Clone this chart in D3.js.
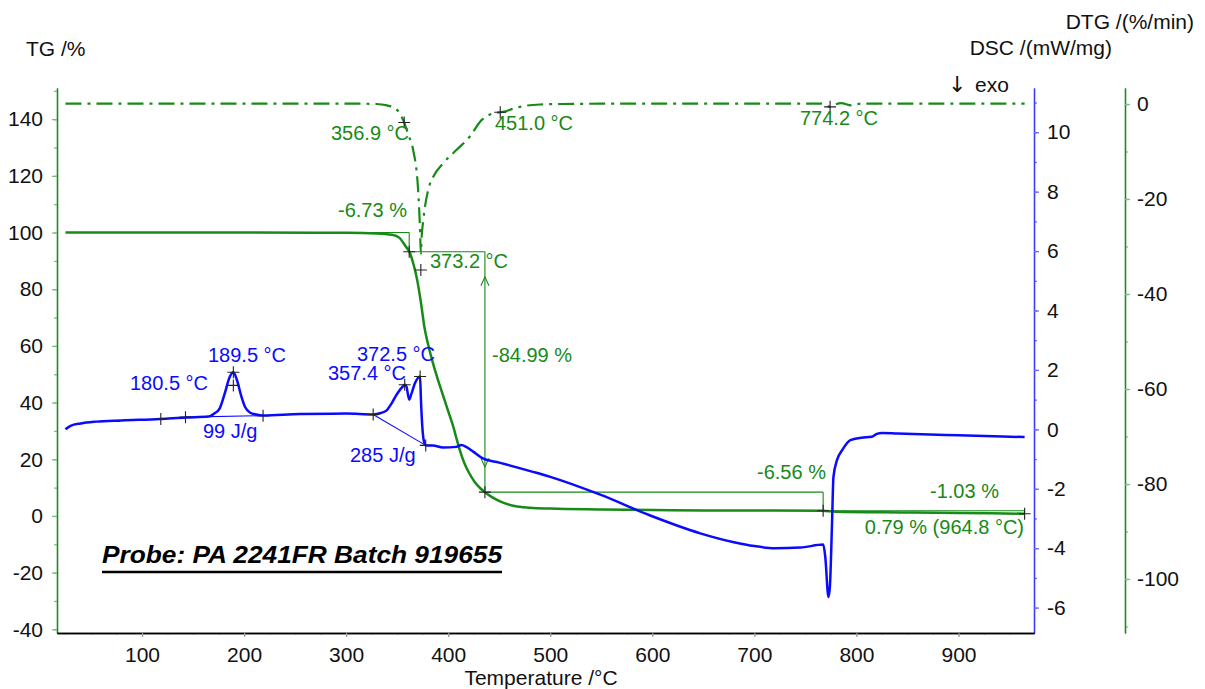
<!DOCTYPE html>
<html>
<head>
<meta charset="utf-8">
<script src="https://cdn.jsdelivr.net/npm/d3@7"></script>
<style>
	body { margin: 0; background: #fff; }
	text { font-family: "Liberation Sans", Arial, sans-serif; }
</style>
</head>
<body>
<div id="chart"></div>
<script>
// values (temperature in °C)
const tgTemp = [25, 100, 200, 300, 330, 345, 352, 356, 359, 362, 366.6, 369.6, 373, 377, 380, 385, 390, 395, 400, 405, 408, 412, 416, 420, 426, 432, 436, 445, 455, 465, 480, 500, 550, 600, 650, 700, 766, 780, 850, 900, 964.8];
const tgVal = [100, 100, 100, 99.9, 99.7, 99.2, 98.2, 96.4, 94.8, 93.2, 88, 83.3, 76, 66, 61, 54, 48, 42.5, 37, 31.5, 27.5, 22.5, 18.5, 15.5, 12, 9.6, 8.4, 6.2, 4.5, 3.5, 2.9, 2.6, 2.3, 2.1, 1.95, 1.9, 1.8, 1.5, 1.25, 1.05, 0.79];

const dscTemp = [25, 30, 40, 55, 80, 118, 143, 165, 171, 176, 181, 186, 189.5, 193, 197.4, 201, 206, 212, 219, 255, 300, 326.5, 334, 340, 345, 350, 356, 357.4, 359, 361.8, 364, 367.4, 371.6, 372.5, 373.2, 376, 378, 385, 395, 408, 413, 418, 424.5, 434, 450, 483, 500, 549, 598, 647, 680, 700, 720, 745, 767.5, 769.5, 772.6, 774, 776, 777.5, 781, 786, 794, 805, 815, 820, 825, 840, 900, 964.8];
const dscVal = [0.0, 0.12, 0.2, 0.26, 0.3, 0.35, 0.4, 0.43, 0.54, 0.7, 1.2, 1.77, 1.92, 1.66, 1.1, 0.75, 0.56, 0.5, 0.47, 0.52, 0.53, 0.5, 0.55, 0.65, 0.9, 1.2, 1.46, 1.5, 1.45, 1.0, 1.2, 1.55, 1.77, 1.78, 1.1, -0.37, -0.54, -0.54, -0.61, -0.59, -0.53, -0.6, -0.75, -0.98, -1.12, -1.43, -1.6, -2.2, -2.9, -3.5, -3.8, -3.93, -4.0, -3.98, -3.88, -4.3, -5.64, -5.3, -3.28, -1.6, -1.03, -0.7, -0.36, -0.28, -0.25, -0.15, -0.12, -0.14, -0.2, -0.26];

const dtgTemp = [25, 100, 200, 300, 330, 340, 347, 352, 356.9, 361, 365.7, 370.5, 372.5, 373.2, 374, 375.6, 380.5, 385.4, 395, 408, 421, 432.7, 441, 448, 455, 465, 475, 490, 510, 600, 700, 765, 770, 774.2, 778, 785, 795, 805, 900, 964.8];
const dtgVal = [0.1, 0.1, 0.1, 0.1, 0, -0.3, -0.8, -1.8, -3.9, -6.5, -9.7, -18, -27, -31.5, -28, -24.4, -18, -15.3, -12.5, -9.7, -6.9, -3.4, -2.2, -1.8, -1.6, -0.9, -0.4, -0.1, 0, 0.1, 0.1, 0.1, -0.2, -0.6, -0.2, 0.2, -0.3, 0.1, 0.1, 0.1];

// evaluated points marked with a cross: [temperature, value]
const tgMarks = [[361.8, 93.2], [373.2, 86.8], [436, 8.4], [767.4, 1.84], [964.8, 0.79]];
const dscMarks = [[118.4, 0.35], [142.6, 0.41], [189.5, 1.92], [189.5, 1.48], [218.6, 0.46], [326.5, 0.5], [357.4, 1.5], [372.5, 1.78], [378, -0.54]];
const dtgMarks = [[356.9, -3.9], [451, -1.75], [774.2, -0.6]];

// mass steps: [start temperature, end temperature, level]
const tgSteps = [[300, 361.8, 100], [361.8, 436, 93.2], [436, 767.4, 8.4], [767.4, 964.8, 1.84]];

const xTicks = [100, 200, 300, 400, 500, 600, 700, 800, 900];
const tgTicks = [-40, -20, 0, 20, 40, 60, 80, 100, 120, 140];
const dscTicks = [-6, -4, -2, 0, 2, 4, 6, 8, 10];
const dtgTicks = [0, -20, -40, -60, -80, -100];

const GREEN = "#178a17";
const BLUE = "#0a0aff";

const width = 1205, height = 689;
const svg = d3.select("#chart").append("svg")
	.attr("width", width).attr("height", height);

const x = d3.scaleLinear().domain([16.7, 974]).range([57, 1034]);
const yTG = d3.scaleLinear().domain([-41.3, 151]).range([633, 88]);
const yDSC = d3.scaleLinear().domain([-6.855, 11.49]).range([633, 88]);
const yDTG = d3.scaleLinear().domain([-111.37, 3.37]).range([633, 88]);

function addAxis(axis, tx, ty, domainColor, tickColor){
	const g = svg.append("g").attr("transform", "translate(" + tx + "," + ty + ")").call(axis);
	g.select(".domain").attr("stroke", domainColor).attr("stroke-width", 1.3);
	g.selectAll(".tick line").attr("stroke", tickColor).attr("stroke-width", 1.3);
	g.selectAll(".tick text").attr("fill", "#111").style("font-size", "21px")
		.style("font-family", "'Liberation Sans', Arial, sans-serif");
	return g;
}

// minor ticks first, then major ticks with labels
addAxis(d3.axisLeft(yTG).tickValues(d3.range(-40, 151, 10)).tickSize(3).tickSizeOuter(0).tickFormat(""), 57, 0, GREEN, "#7cc07c");
addAxis(d3.axisLeft(yTG).tickValues(tgTicks).tickSize(5).tickSizeOuter(0).tickPadding(9).tickFormat(d => String(d)), 57, 0, GREEN, "#7cc07c");

addAxis(d3.axisRight(yDSC).tickValues(d3.range(-6, 12, 1)).tickSize(3).tickSizeOuter(0).tickFormat(""), 1034, 0, "#3a3aff", "#6a6aff");
addAxis(d3.axisRight(yDSC).tickValues(dscTicks).tickSize(5).tickSizeOuter(0).tickPadding(8).tickFormat(d => String(d)), 1034, 0, "#3a3aff", "#6a6aff");

addAxis(d3.axisRight(yDTG).tickValues(d3.range(-110, 1, 10)).tickSize(3).tickSizeOuter(0).tickFormat(""), 1125, 0, GREEN, "#7cc07c");
addAxis(d3.axisRight(yDTG).tickValues(dtgTicks).tickSize(5).tickSizeOuter(0).tickPadding(7).tickFormat(d => String(d)), 1125, 0, GREEN, "#7cc07c");

addAxis(d3.axisBottom(x).tickValues(d3.range(25, 951, 25)).tickSize(2).tickSizeOuter(0).tickFormat(""), 0, 633, "#000", "#999");
addAxis(d3.axisBottom(x).tickValues(xTicks).tickSize(4).tickSizeOuter(0).tickPadding(10).tickFormat(d => String(d)), 0, 633, "#000", "#999");

function label(str, px, py, color, anchor, size){
	return svg.append("text").attr("x", px).attr("y", py)
		.attr("fill", color).attr("text-anchor", anchor || "start")
		.style("font-size", (size || 20) + "px").text(str);
}

function cross(px, py){
	svg.append("path")
		.attr("d", "M" + (px-6) + "," + py + "H" + (px+6) + "M" + px + "," + (py-6) + "V" + (py+6))
		.attr("stroke", "#222").attr("stroke-width", 1.1).attr("fill", "none");
}

// axis titles
label("TG /%", 26, 56, "#111", "start", 21);
label("DTG /(%/min)", 1194, 29, "#111", "end", 21);
label("DSC /(mW/mg)", 1112, 55, "#111", "end", 21);
label("exo", 975, 92, "#111", "start", 21);
label("\u2193", 948, 92, "#111", "start", 22).style("font-family", "'DejaVu Sans', sans-serif");
label("Temperature /°C", 541, 685, "#111", "middle", 21);

// evaluation helper lines
const stepLine = svg.append("g").attr("stroke", GREEN).attr("stroke-width", 1.1).attr("fill", "none");
tgSteps.forEach((s, i) => {
	stepLine.append("line").attr("x1", x(s[0])).attr("x2", x(s[1])).attr("y1", yTG(s[2])).attr("y2", yTG(s[2]));
	const next = i < tgSteps.length - 1 ? tgSteps[i+1][2] : 0.79;
	stepLine.append("line").attr("x1", x(s[1])).attr("x2", x(s[1])).attr("y1", yTG(s[2])).attr("y2", yTG(next));
});
// arrowheads of the -84.99 % step
const ax = x(436);
const topTip = yTG(93.2) + 25, botTip = yTG(8.4) - 25;
stepLine.append("path").attr("d", "M" + (ax-4) + "," + (topTip+9) + "L" + ax + "," + topTip + "L" + (ax+4) + "," + (topTip+9));
stepLine.append("path").attr("d", "M" + (ax-4) + "," + (botTip-9) + "L" + ax + "," + botTip + "L" + (ax+4) + "," + (botTip-9));

// DSC peak baselines
const baseLine = svg.append("g").attr("stroke", BLUE).attr("stroke-width", 1.1);
baseLine.append("line").attr("x1", x(142.6)).attr("y1", yDSC(0.41)).attr("x2", x(218.6)).attr("y2", yDSC(0.46));
baseLine.append("line").attr("x1", x(326.5)).attr("y1", yDSC(0.5)).attr("x2", x(378)).attr("y2", yDSC(-0.54));

// curves
const tgLine = d3.line().x(i => x(tgTemp[i])).y(i => yTG(tgVal[i])).curve(d3.curveMonotoneX);
const dscLine = d3.line().x(i => x(dscTemp[i])).y(i => yDSC(dscVal[i])).curve(d3.curveMonotoneX);
const dtgLine = d3.line().x(i => x(dtgTemp[i])).y(i => yDTG(dtgVal[i])).curve(d3.curveMonotoneX);

svg.append("path").attr("d", dtgLine(d3.range(dtgTemp.length)))
	.attr("fill", "none").attr("stroke", GREEN).attr("stroke-width", 2.2)
	.attr("stroke-dasharray", "16,6,3,6");
svg.append("path").attr("d", tgLine(d3.range(tgTemp.length)))
	.attr("fill", "none").attr("stroke", GREEN).attr("stroke-width", 2.5);
svg.append("path").attr("d", dscLine(d3.range(dscTemp.length)))
	.attr("fill", "none").attr("stroke", BLUE).attr("stroke-width", 2.5);

tgMarks.forEach(m => cross(x(m[0]), yTG(m[1])));
dscMarks.forEach(m => cross(x(m[0]), yDSC(m[1])));
dtgMarks.forEach(m => cross(x(m[0]), yDTG(m[1])));

// annotations
label("356.9 °C", 331, 140, GREEN);
label("451.0 °C", 495, 130, GREEN);
label("774.2 °C", 800, 125, GREEN);
label("-6.73 %", 338, 217, GREEN);
label("373.2 °C", 430, 268, GREEN);
label("-84.99 %", 492, 362, GREEN);
label("-6.56 %", 757, 479, GREEN);
label("-1.03 %", 930, 498, GREEN);
label("0.79 % (964.8 °C)", 1024, 534, GREEN, "end");

label("189.5 °C", 208, 362, BLUE);
label("180.5 °C", 130, 390, BLUE);
label("99 J/g", 203, 438, BLUE);
label("372.5 °C", 357, 361, BLUE);
label("357.4 °C", 328, 380, BLUE);
label("285 J/g", 350, 462, BLUE);

// sample title
label("Probe: PA 2241FR Batch 919655", 102, 563, "#000", "start", 23)
	.style("font-weight", "bold").style("font-style", "italic")
	.attr("textLength", 400).attr("lengthAdjust", "spacingAndGlyphs");
svg.append("line").attr("x1", 102).attr("x2", 502).attr("y1", 572).attr("y2", 572)
	.attr("stroke", "#000").attr("stroke-width", 2.5);
</script>
</body>
</html>
